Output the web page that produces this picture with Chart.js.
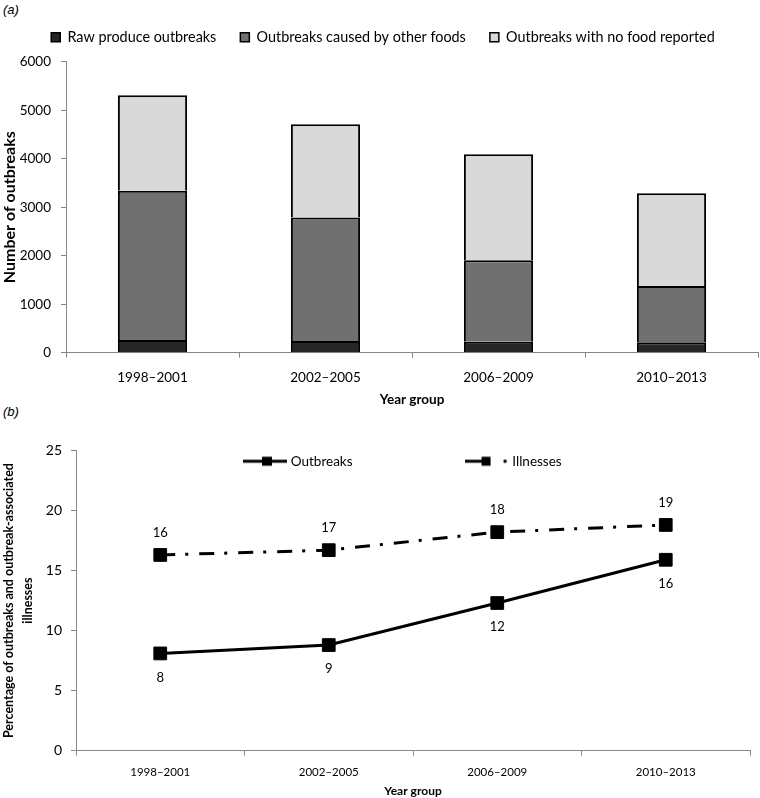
<!DOCTYPE html>
<html>
<head>
<meta charset="utf-8">
<script src="https://cdn.jsdelivr.net/npm/chart.js@4.4.1/dist/chart.umd.min.js"></script>
<style>
  body { margin: 0; background: #fff; width: 760px; height: 798px; position: relative; overflow: hidden; font-family: Lato, sans-serif; }
  canvas { position: absolute; left: 0; }
  #chartA { top: 0; }
  #chartB { top: 406px; }
  .panel { position: absolute; left: 3px; font: italic 13px "Liberation Sans", Arial, sans-serif; color: #000; }
</style>
</head>
<body>
<div class="panel" style="top:2px">(<i>a</i>)</div>
<div class="panel" style="top:404px">(<i>b</i>)</div>
<canvas id="chartA" width="760" height="408"></canvas>
<canvas id="chartB" width="760" height="392"></canvas>
<script>
// --- data ---
const yearGroups = ['1998–2001', '2002–2005', '2006–2009', '2010–2013'];

// panel (a): number of outbreaks, stacked
const rawProduce = [260, 240, 225, 215];
const otherFoods = [3080, 2550, 1680, 1160];
const noFoodReported = [1970, 1920, 2185, 1915];

// panel (b): percentage attributed to raw produce
const pctOutbreaks = [8.1, 8.8, 12.3, 15.9];
const pctIllnesses = [16.3, 16.7, 18.2, 18.8];

const axisGrey = '#868686';
Chart.defaults.font.family = 'Lato, sans-serif';
Chart.defaults.color = '#000';

// force the legend block to a fixed height so the plot lines up
const legendHeight = {
  id: 'legendHeight',
  beforeLayout(chart, args, opts) {
    const lg = chart.legend;
    if (!lg || lg._fixed) return;
    const fit = lg.fit;
    lg.fit = function () { fit.call(this); this.height = opts.height; };
    lg._fixed = true;
  }
};

// move the legend of panel (b) inside the plot, where Excel put it
const legendNudge = {
  id: 'legendNudge',
  afterLayout(chart, args, opts) {
    const lg = chart.legend;
    const w = lg.right - lg.left;
    lg.top = chart.chartArea.top + opts.dy - lg.options.labels.padding;
    lg.bottom = chart.chartArea.top + 40;
    lg.height = lg.bottom - lg.top;
    lg.left = opts.dx;
    lg.right = opts.dx + w;
  }
};

// value labels next to the line markers
const pointLabels = {
  id: 'pointLabels',
  afterDatasetsDraw(chart) {
    const ctx = chart.ctx;
    ctx.save();
    ctx.font = '13px Lato, sans-serif';
    ctx.fillStyle = '#000';
    ctx.textAlign = 'center';
    ctx.textBaseline = 'middle';
    chart.data.datasets.forEach((ds, i) => {
      chart.getDatasetMeta(i).data.forEach((pt, j) => {
        ctx.fillText(String(Math.round(ds.data[j])), pt.x, pt.y + ds.labelOffset);
      });
    });
    ctx.restore();
  }
};

// legend swatches: line + marker, like the Excel legend
function swatch(dashed) {
  const c = document.createElement('canvas');
  c.width = 44; c.height = 12;
  const g = c.getContext('2d');
  g.fillStyle = '#000';
  if (!dashed) {
    g.fillRect(0, 4.5, 44, 3);
    g.fillRect(19, 1.5, 10, 9);
  } else {
    g.fillRect(0, 4.5, 20, 3);
    g.fillRect(17, 1.5, 9, 9);
    g.fillRect(39, 4.5, 3, 3);
  }
  return c;
}
const swatches = [swatch(false), swatch(true)];

const plainTicks = v => String(v);

// --- (a) stacked bars ---
new Chart(document.getElementById('chartA'), {
  type: 'bar',
  data: {
    labels: yearGroups,
    datasets: [
      {label: 'Raw produce outbreaks', data: rawProduce, backgroundColor: '#262626'},
      {label: 'Outbreaks caused by other foods', data: otherFoods, backgroundColor: '#707070'},
      {label: 'Outbreaks with no food reported', data: noFoodReported, backgroundColor: '#d9d9d9'}
    ].map(d => Object.assign(d, {borderColor: '#000', borderWidth: {top: 2, left: 2, right: 2, bottom: 0},
                                  borderSkipped: false, categoryPercentage: 1, barPercentage: 0.4}))
  },
  options: {
    responsive: false,
    animation: false,
    events: [],
    layout: {padding: {top: 6, left: 8, right: 2, bottom: 0}},
    plugins: {
      tooltip: {enabled: false},
      legend: {
        position: 'top',
        labels: {boxWidth: 9, boxHeight: 9, padding: 24, font: {size: 14.4}, color: '#000'}
      },
      legendHeight: {height: 55.7}
    },
    scales: {
      x: {
        stacked: true,
        grid: {drawOnChartArea: false, tickLength: 5, color: axisGrey, offset: true},
        border: {color: axisGrey, width: 1},
        ticks: {font: {size: 13.5}, padding: 12},
        title: {display: true, text: 'Year group', font: {size: 13.5, weight: 'bold'}, padding: 0},
        afterFit(s) { s.height = 55.3; }
      },
      y: {
        stacked: true,
        min: 0, max: 6000,
        grid: {drawOnChartArea: false, tickLength: 5, color: axisGrey},
        border: {color: axisGrey, width: 1},
        ticks: {stepSize: 1000, font: {size: 13.5}, padding: 10, callback: plainTicks},
        title: {display: true, text: 'Number of outbreaks', font: {size: 16, weight: 'bold'}, padding: {top: -8}},
        afterFit(s) { s.width = 58; }
      }
    }
  },
  plugins: [legendHeight]
});

// --- (b) percentage lines ---
new Chart(document.getElementById('chartB'), {
  type: 'line',
  data: {
    labels: yearGroups,
    datasets: [
      {label: 'Outbreaks', data: pctOutbreaks, labelOffset: 24, borderDash: []},
      {label: 'Illnesses', data: pctIllnesses, labelOffset: -22, borderDash: [15, 10, 3, 11]}
    ].map(d => Object.assign(d, {borderColor: '#000', borderWidth: 3, borderCapStyle: 'butt',
                                  pointStyle: 'rect', pointRadius: 9, pointBackgroundColor: '#000',
                                  pointBorderColor: '#000', pointBorderWidth: 1, tension: 0, fill: false}))
  },
  options: {
    responsive: false,
    animation: false,
    events: [],
    layout: {padding: {top: 44.5, left: 0, right: 4, bottom: 0}},
    plugins: {
      tooltip: {enabled: false},
      legend: {
        position: 'top',
        align: 'start',
        labels: {
          usePointStyle: true, pointStyleWidth: 38, padding: 115, font: {size: 13.5}, color: '#000',
          generateLabels(chart) {
            const items = Chart.defaults.plugins.legend.labels.generateLabels(chart);
            items.forEach((it, i) => { it.pointStyle = swatches[i]; });
            return items;
          }
        }
      },
      legendHeight: {height: 0},
      legendNudge: {dx: 246 - 115, dy: 4}
    },
    scales: {
      x: {
        offset: true,
        grid: {drawOnChartArea: false, tickLength: 5, color: axisGrey, offset: true},
        border: {color: axisGrey, width: 1},
        ticks: {font: {size: 11.5}, padding: 10},
        title: {display: true, text: 'Year group', font: {size: 12, weight: 'bold'}, padding: 0},
        afterFit(s) { s.height = 47.3; }
      },
      y: {
        min: 0, max: 25,
        grid: {drawOnChartArea: false, tickLength: 5, color: axisGrey},
        border: {color: axisGrey, width: 1},
        ticks: {stepSize: 5, font: {size: 14}, padding: 9, callback: plainTicks},
        title: {
          display: true,
          text: ['Percentage of outbreaks and outbreak-associated', 'illnesses'],
          font: {size: 12.5, weight: 'bold', lineHeight: 1.5}, padding: 0
        },
        afterFit(s) { s.width = 76; }
      }
    }
  },
  plugins: [legendHeight, legendNudge, pointLabels]
});
</script>
</body>
</html>
